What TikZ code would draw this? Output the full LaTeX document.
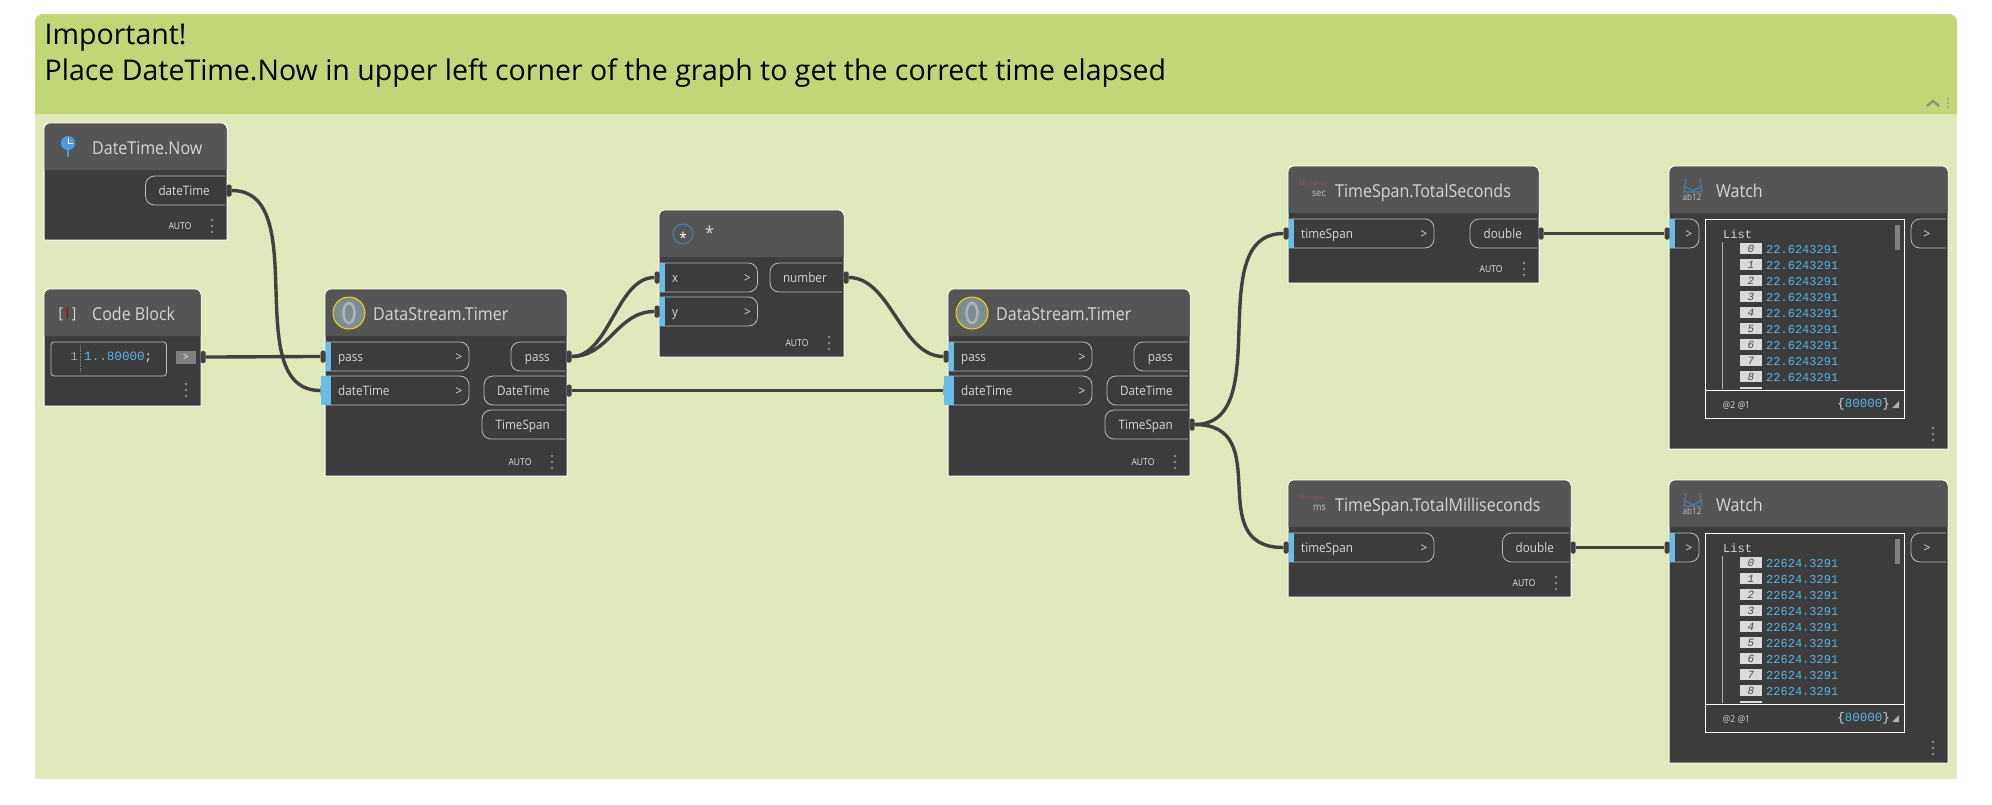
\documentclass[tikz,border=0pt]{standalone}
\usepackage{fontspec}
\setmainfont{Open Sans}[FakeStretch=0.9]
\newfontfamily\notefont{Open Sans}
\newfontfamily\codefont{Liberation Mono}
\usepackage{tikz}
\usetikzlibrary{positioning,calc}
\definecolor{bandcol}{HTML}{C1D677}
\definecolor{groupcol}{HTML}{E0E9BB}
\definecolor{headcol}{HTML}{555555}
\definecolor{bodycol}{HTML}{3C3C3C}
\definecolor{wirecol}{HTML}{414141}
\definecolor{barcol}{HTML}{66BDE8}
\definecolor{valcol}{HTML}{57B5E3}
\definecolor{txtcol}{HTML}{D6D6D6}
\definecolor{iconblue}{HTML}{4A9BE0}
\definecolor{iconsteel}{HTML}{4A7BA6}

\begin{document}
\begin{tikzpicture}[
    x=1pt,
    y=-1pt,
    wire/.style={line width=3.4pt, wirecol},
    port/.style={fill=wirecol, inner sep=0pt, minimum width=5pt, minimum height=12pt, rounded corners=1.5pt},
    pill/.style={draw=white!65!bodycol, line width=0.8pt, rounded corners=9pt},
    title/.style={anchor=west, inner sep=0pt, text height=12pt, text depth=0pt, text=txtcol, font=\fontsize{17.8}{18}\selectfont},
    lab/.style={inner sep=0pt, text height=10pt, text depth=0pt, text=txtcol, font=\fontsize{13}{14}\selectfont},
    auto/.style={inner sep=0pt, text=white!90!black, font=\fontsize{9.5}{11}\selectfont},
    mono/.style={inner sep=0pt, font=\fontsize{12}{14}\codefont},
    idxbox/.style={fill=white!85!black, text=black!70, inner sep=0pt, minimum width=22pt, minimum height=11pt, font=\fontsize{11}{11}\codefont\itshape}
]
    \useasboundingbox (0,0) rectangle (1992,804);

    % Group with its band
    \fill[groupcol] (35,114) rectangle (1957,779);
    \fill[bandcol] (35,114) [rounded corners=8pt] -- (35,14) -- (1957,14) [sharp corners] -- (1957,114) -- cycle;
    \node[anchor=west, inner sep=0pt, align=left, font=\fontsize{28.5}{36}\notefont] (note) at (44.5,56) {Important!\\Place DateTime.Now in upper left corner of the graph to get the correct time elapsed};
    \draw[line width=2.2pt, gray!80!bandcol] (1927,106) -- (1933,101) -- (1939,106);
    \foreach \y in {99,103,107} \fill[gray!80!bandcol] (1948,\y) circle (1pt);

    % Node bodies
    \foreach \xa/\ya/\xb/\yb in {44/123/227/240, 44/289/201/406, 325/289/567/476, 659/210/844/357, 948/289/1190/476, 1288/166/1539/283, 1288/480/1571/597, 1669/166/1948/449, 1669/480/1948/763} {
        \fill[bodycol, draw=white, line width=1pt] (\xa,\yb) [rounded corners=6pt] -- (\xa,\ya) -- (\xb,\ya) [sharp corners] -- (\xb,\yb) -- cycle;
        \fill[headcol] (\xa+0.5,\ya+47) [rounded corners=6pt] -- (\xa+0.5,\ya+0.5) -- (\xb-0.5,\ya+0.5) [sharp corners] -- (\xb-0.5,\ya+47) -- cycle;
    }

    % Titles
    \foreach \nm/\x/\y/\txt in {nowTitle/92/148/DateTime.Now, codeTitle/92/314/Code Block, tmrOneTitle/373/314/DataStream.Timer, mulTitle/705/233/*, tmrTwoTitle/996/314/DataStream.Timer, secTitle/1335/191/TimeSpan.TotalSeconds, msTitle/1335/505/TimeSpan.TotalMilliseconds, watchOneTitle/1716/191/Watch, watchTwoTitle/1716/505/Watch}
        \node[title] (\nm) at (\x,\y) {\txt};

    % Input pills
    \foreach \nm/\txt/\xa/\y/\xb in {tmrOnePass/pass/326/356.5/469, tmrOneDate/dateTime/326/390.5/469, mulX/x/660/277.5/757.5, mulY/y/660/311.5/757.5, tmrTwoPass/pass/949/356.5/1092, tmrTwoDate/dateTime/949/390.5/1092, secIn/timeSpan/1289/233.5/1434, msIn/timeSpan/1289/547.5/1434, watchOneIn/{}/1670/233.5/1699, watchTwoIn/{}/1670/547.5/1699} {
        \draw[pill] (\xa,\y-14.5) -- (\xb,\y-14.5) -- (\xb,\y+14.5) -- (\xa,\y+14.5);
        \fill[barcol] (\xa,\y-14.5) rectangle (\xa+5,\y+14.5);
        \node[lab, anchor=west] (\nm Lab) at (\xa+12,\y) {\txt};
        \node[lab] (\nm Arrow) at (\xb-10,\y) {>};
    }

    % Output pills
    \foreach \nm/\txt/\xa/\y/\xb in {nowPill/dateTime/145.5/190.5/225, tmrOnePassPill/pass/511/356.5/565, tmrOneDatePill/DateTime/484/390.5/565, tmrOneSpanPill/TimeSpan/482/424.5/565, mulPill/number/770/277.5/842, tmrTwoPassPill/pass/1134/356.5/1188, tmrTwoDatePill/DateTime/1107/390.5/1188, tmrTwoSpanPill/TimeSpan/1105/424.5/1188, secPill/double/1470/233.5/1537, msPill/double/1502.5/547.5/1569} {
        \draw[pill] (\xb,\y-14.5) -- (\xa,\y-14.5) -- (\xa,\y+14.5) -- (\xb,\y+14.5);
        \node[lab, anchor=east] (\nm Lab) at (\xb-15,\y) {\txt};
    }
    \foreach \nm/\y in {watchOneOut/233.5, watchTwoOut/547.5} {
        \draw[pill] (1946,\y-14.5) -- (1911,\y-14.5) -- (1911,\y+14.5) -- (1946,\y+14.5);
        \node[lab] (\nm) at (1927,\y) {>};
    }

    % Code block content
    \draw[pill, rounded corners=3pt] (51,342) rectangle (166.5,376);
    \draw[gray, densely dotted, line width=0.5pt] (80.5,345) -- (80.5,372);
    \node[mono, text=gray!70, anchor=east] (codeLine) at (78,357) {1};
    \node[mono, text=valcol, anchor=west, font=\fontsize{12.6}{14}\codefont] (codeText) at (84,357) {1..80000\textcolor{txtcol}{;}};
    \node[fill=gray, text=white, inner sep=0pt, minimum width=20pt, minimum height=13pt, font=\fontsize{10}{10}\selectfont] (codeArrow) at (186,357.5) {>};

    % Auto labels
    \foreach \nm/\x/\y in {nowAuto/180/226, tmrOneAuto/520/462, mulAuto/797/343, tmrTwoAuto/1143/462, secAuto/1491/269, msAuto/1524/583}
        \node[auto] (\nm) at (\x,\y) {AUTO};

    % Menu dots
    \foreach \x/\y in {212/226, 186/390, 552/462, 829/343, 1175/462, 1524/269, 1556/583, 1933/434, 1933/748}
        \foreach \d in {-6,0,6} \fill[gray!90] (\x,\y+\d) circle (1.3pt);

    % Watch contents
    \foreach \w/\oy/\val in {One/0/22.6243291, Two/314/22624.3291} {
        \draw[white, line width=1pt] (1705.5,219+\oy) rectangle (1904,418+\oy);
        \draw[white, line width=1pt] (1705.5,390+\oy) -- (1904,390+\oy);
        \draw[white!60!bodycol, line width=0.6pt] (1722.5,242+\oy) -- (1722.5,389+\oy);
        \fill[gray] (1895,225+\oy) rectangle (1900,250+\oy);
        \node[mono, text=txtcol, anchor=west] (list\w) at (1723,234+\oy) {List};
        \foreach \i in {0,...,8} {
            \node[idxbox] (idx\w\i) at (1751,248.7+\oy+16*\i) {\i};
            \node[mono, text=valcol, anchor=west] (val\w\i) at (1766,249.5+\oy+16*\i) {\val};
        }
        \fill[white!85!black] (1740,387+\oy) rectangle (1762,389+\oy);
        \node[mono, text=txtcol, anchor=west, font=\fontsize{9.5}{10}\selectfont] (rank\w) at (1722.5,405+\oy) {@2 @1};
        \node[mono, text=valcol, anchor=east, font=\fontsize{12.5}{14}\codefont] (count\w) at (1890,404+\oy) {\textcolor{txtcol}{\{}80000\textcolor{txtcol}{\}}};
        \fill[gray!60] (1892,408+\oy) -- (1899,401+\oy) -- (1899,408+\oy) -- cycle;
    }

    % Icons
    \draw[iconblue, line width=2pt] (68,146) -- (68,157);
    \fill[iconblue] (68,143) circle (7pt);
    \draw[white, line width=1pt] (68,138) -- (68,143.5) -- (73,143.5);
    \node[inner sep=0pt, text=txtcol, font=\fontsize{15}{15}\selectfont] (codeIcon) at (67.5,314) {[\,\textcolor{red!70!black}{I}\,]};
    \foreach \x in {349,972} {
        \fill[black!40!cyan!30!gray, draw=yellow!75!orange, line width=1pt] (\x,313) circle (16pt);
        \draw[gray!60, line width=2.6pt] (\x,313) ellipse (5.5pt and 10pt);
    }
    \draw[iconsteel, line width=1.2pt] (683,234) circle (10pt);
    \node[anchor=base, inner sep=0pt, text=white, font=\fontsize{15}{15}\selectfont] (mulIcon) at (683,243) {*};
    \foreach \nm/\y/\unit in {sec/0/sec, ms/314/ms} {
        \node[inner sep=0pt, text=red!35!gray, font=\fontsize{6}{6}\selectfont] (\nm Clock) at (1312,183+\y) {hh mm ss};
        \node[anchor=east, inner sep=0pt, text=gray!50, font=\fontsize{10}{10}\selectfont] (\nm Unit) at (1326,194+\y) {\unit};
    }
    \foreach \w/\y in {One/0, Two/314} {
        \draw[iconsteel, line width=1.2pt] (1686,179+\y) -- (1684,192+\y) -- (1702,192+\y) -- (1700,179+\y) (1684,186+\y) -- (1693,191+\y) -- (1702,186+\y);
        \node[inner sep=0pt, text=gray!50, font=\fontsize{9}{9}\selectfont] (watch\w Icon) at (1692,197+\y) {ab12};
    }

    % Ports
    \foreach \nm/\x/\y in {nowOut/229/190.5, codeOut/203/357, tmrOnePassIn/323/356.5, tmrOneDateIn/323/390.5, tmrOnePassOut/569/356.5, tmrOneDateOut/569/390.5, mulXIn/657/277.5, mulYIn/657/311.5, mulOut/846/277.5, tmrTwoPassIn/946/356.5, tmrTwoDateIn/946/390.5, tmrTwoSpanOut/1192/424.5, secInPort/1286/233.5, secOut/1541/233.5, msInPort/1286/547.5, msOut/1573/547.5, watchOneInPort/1667/233.5, watchTwoInPort/1667/547.5}
        \node[port] (\nm) at (\x,\y) {};

    % Wires
    \foreach \a/\b/\c in {nowOut/tmrOneDateIn/85, codeOut/tmrOnePassIn/30, tmrOnePassOut/mulXIn/40, tmrOnePassOut/mulYIn/40, mulOut/tmrTwoPassIn/45, tmrOneDateOut/tmrTwoDateIn/30, tmrTwoSpanOut/secInPort/85, tmrTwoSpanOut/msInPort/85, secOut/watchOneInPort/30, msOut/watchTwoInPort/30}
        \draw[wire] (\a) .. controls +(\c,0) and +(-\c,0) .. (\b);

    % Wider bars over the wire ends
    \fill[barcol] (321,376) rectangle (331,405);
    \fill[barcol] (944,376) rectangle (954,405);
\end{tikzpicture}
\end{document}
